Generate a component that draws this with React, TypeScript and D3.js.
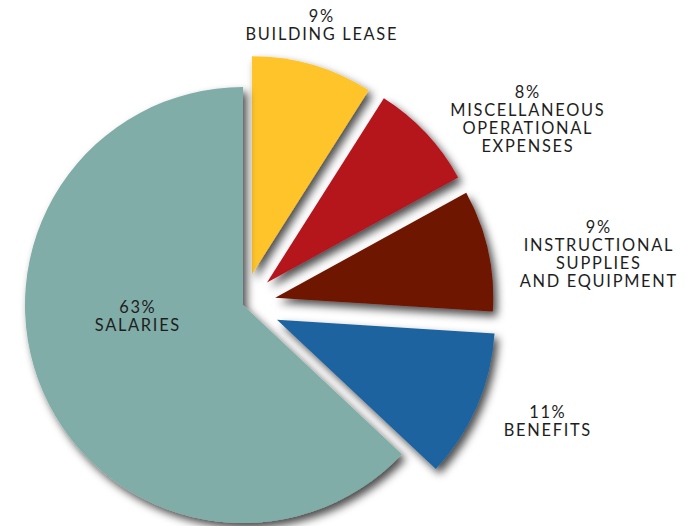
import React from "react";
import * as d3 from "d3";

const categories = ["BUILDING LEASE", "MISCELLANEOUS OPERATIONAL EXPENSES", "INSTRUCTIONAL SUPPLIES AND EQUIPMENT", "BENEFITS", "SALARIES"];
const values = [9, 8, 9, 11, 63];
const labelLines = [
  ["BUILDING LEASE"],
  ["MISCELLANEOUS", "OPERATIONAL", "EXPENSES"],
  ["INSTRUCTIONAL", "SUPPLIES", "AND EQUIPMENT"],
  ["BENEFITS"],
  ["SALARIES"],
];
const colors = ["#FFC42A", "#B5121E", "#6E1300", "#1F64A0", "#80ADA7"];
const explode = [32, 33, 33, 37, 0];
// label anchor (center x, baseline of first line)
const labelAnchors: [number, number][] = [
  [321, 22],
  [527, 98],
  [598, 233],
  [547, 418],
  [137, 313],
];

export default function App() {
  const W = 686, H = 526;
  const cx = 243, cy = 305, R = 218;
  const pie = d3.pie<number>().value(d => d).sort(null);
  const arcs = pie(values);
  const arc = d3.arc<d3.PieArcDatum<number>>().innerRadius(0).outerRadius(R);
  const font = "Lato, 'Open Sans', sans-serif";
  const ls = 1.7;
  return (
    <svg width={W} height={H} style={{ position: "absolute", left: 0, top: 0, background: "#fff" }}>
      <defs>
        <filter id="sh" x="-20%" y="-20%" width="140%" height="140%">
          <feDropShadow dx="4" dy="5" stdDeviation="4.5" floodColor="#000" floodOpacity="0.7" />
        </filter>
      </defs>
      <g transform={`translate(${cx},${cy})`}>
        {arcs.map((a, i) => {
          const mid = (a.startAngle + a.endAngle) / 2;
          const ox = Math.sin(mid) * explode[i];
          const oy = -Math.cos(mid) * explode[i];
          return (
            <path key={categories[i]} d={arc(a) || ""} fill={colors[i]} transform={`translate(${ox},${oy})`} filter="url(#sh)" />
          );
        })}
      </g>
      {arcs.map((a, i) => {
        const [x, y] = labelAnchors[i];
        const lines = [`${values[i]}%`, ...labelLines[i]];
        return (
          <g key={"l" + i}>
            {lines.map((l, j) => (
              <text key={j} x={x + ls / 2} y={y + j * 18} textAnchor="middle" fontFamily={font} fontSize={16.4} fill="#1e1e1e" letterSpacing={ls}>
                {l}
              </text>
            ))}
          </g>
        );
      })}
    </svg>
  );
}
